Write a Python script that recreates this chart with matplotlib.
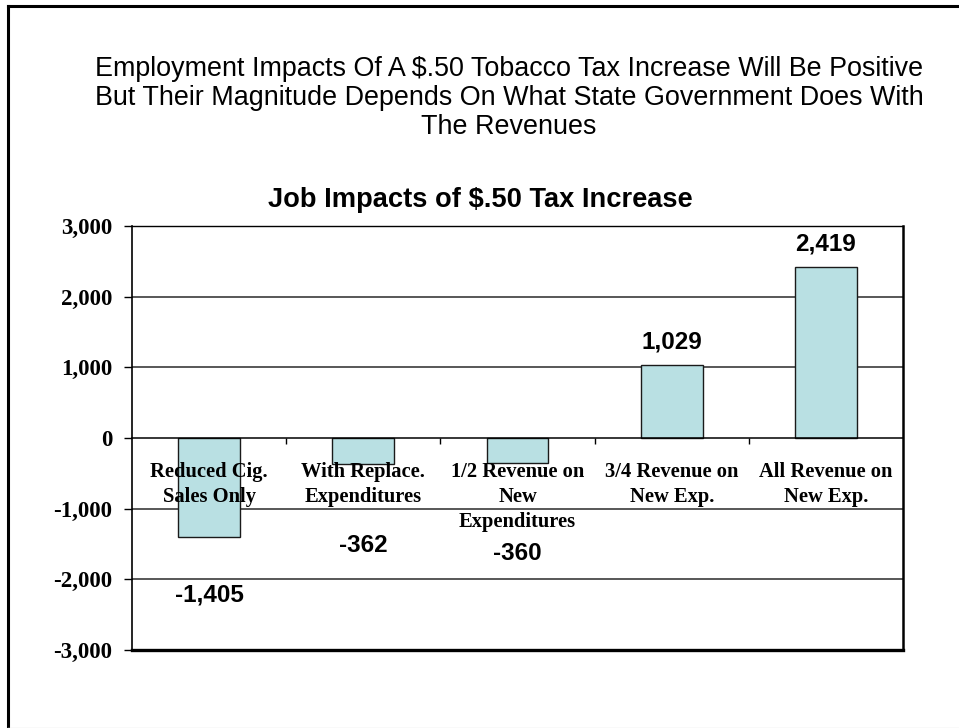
import matplotlib
matplotlib.use("Agg")
import matplotlib.pyplot as plt
from matplotlib.lines import Line2D
from matplotlib.ticker import FuncFormatter, FixedLocator

# Data
categories = [
    "Reduced Cig.\nSales Only",
    "With Replace.\nExpenditures",
    "1/2 Revenue on\nNew\nExpenditures",
    "3/4 Revenue on\nNew Exp.",
    "All Revenue on\nNew Exp.",
]
job_impacts = [-1405, -362, -360, 1029, 2419]
value_labels = ["-1,405", "-362", "-360", "1,029", "2,419"]
y_ticks = [-3000, -2000, -1000, 0, 1000, 2000, 3000]

# Where each value label sits (data units on the y axis)
label_y = [-2222, -1525, -1641, 1363, 2745]

W, H, DPI = 959, 728, 100
fig = plt.figure(figsize=(W / DPI, H / DPI), dpi=DPI)
fig.patch.set_facecolor("white")

def fx(px):
    return px / W

def fy(py):
    return 1 - py / H

# Slide frame (top and left edges)
fig.add_artist(Line2D([fx(7.5), fx(7.5)], [fy(6), fy(728)], color="black", lw=2.2,
                      solid_capstyle="projecting"))
fig.add_artist(Line2D([fx(7.5), fx(959)], [fy(6), fy(6)], color="black", lw=2.2,
                      solid_capstyle="projecting"))
fig.add_artist(Line2D([fx(7.5), fx(959)], [fy(727.5), fy(727.5)], color="#e4e4e4", lw=1))

sans = ["Liberation Sans", "DejaVu Sans"]
serif = ["Liberation Serif", "DejaVu Serif"]

fig.text(fx(509), fy(98),
         "Employment Impacts Of A $.50 Tobacco Tax Increase Will Be Positive\n"
         "But Their Magnitude Depends On What State Government Does With\n"
         "The Revenues",
         ha="center", va="center", fontsize=19.4, family=sans, linespacing=1.17,
         color="black")

ax = fig.add_axes([fx(132), fy(650), fx(903) - fx(132), fy(226) - fy(650)])
ax.set_xlim(-0.5, len(categories) - 0.5)
ax.set_ylim(-3000, 3000)
ax.set_axisbelow(False)  # category labels are printed over the bars

fig.text(fx(480), fy(200), "Job Impacts of $.50 Tax Increase", ha="center", va="center",
         fontsize=19.6, fontweight="bold", family=sans)

# Gridlines
for t in y_ticks[1:-1]:
    if t != 0:
        ax.axhline(t, color="#2a2a2a", lw=1.1, zorder=1)

x = list(range(len(categories)))
ax.bar(x, job_impacts, width=0.4, color="#b9e0e3", edgecolor="#1a1a1a", lw=1.0, zorder=2)

for xi, ly, txt in zip(x, label_y, value_labels):
    ax.text(xi, ly, txt, ha="center", va="center", fontsize=17.5, fontweight="bold",
            family=sans, zorder=3)

# Spines
ax.spines["bottom"].set_position(("data", 0))
ax.spines["bottom"].set_linewidth(1.1)
ax.spines["left"].set_linewidth(1.2)
ax.spines["top"].set_linewidth(1.0)
ax.spines["right"].set_linewidth(1.8)
ax.axhline(-3000, color="black", lw=2.4, clip_on=False, zorder=4)

# Y axis
ax.yaxis.set_major_locator(FixedLocator(y_ticks))
ax.yaxis.set_major_formatter(FuncFormatter(lambda v, p: f"{int(v):,}"))
ax.tick_params(axis="y", direction="out", length=6, width=1.0, pad=8, labelsize=16.5)
for lab in ax.get_yticklabels():
    lab.set_family(serif)
    lab.set_fontweight("bold")

# X axis: boundary ticks and category labels
ax.set_xticks([i + 0.5 for i in range(len(categories) - 1)])
ax.set_xticklabels([])
ax.set_xticks(x, minor=True)
ax.set_xticklabels(categories, minor=True, fontsize=14.8, fontweight="bold",
                   family=serif, linespacing=1.33)
ax.tick_params(axis="x", which="major", direction="out", length=4, width=1.0)
ax.tick_params(axis="x", which="minor", length=0, pad=17)

fig.savefig("out.png", dpi=DPI, facecolor="white")
